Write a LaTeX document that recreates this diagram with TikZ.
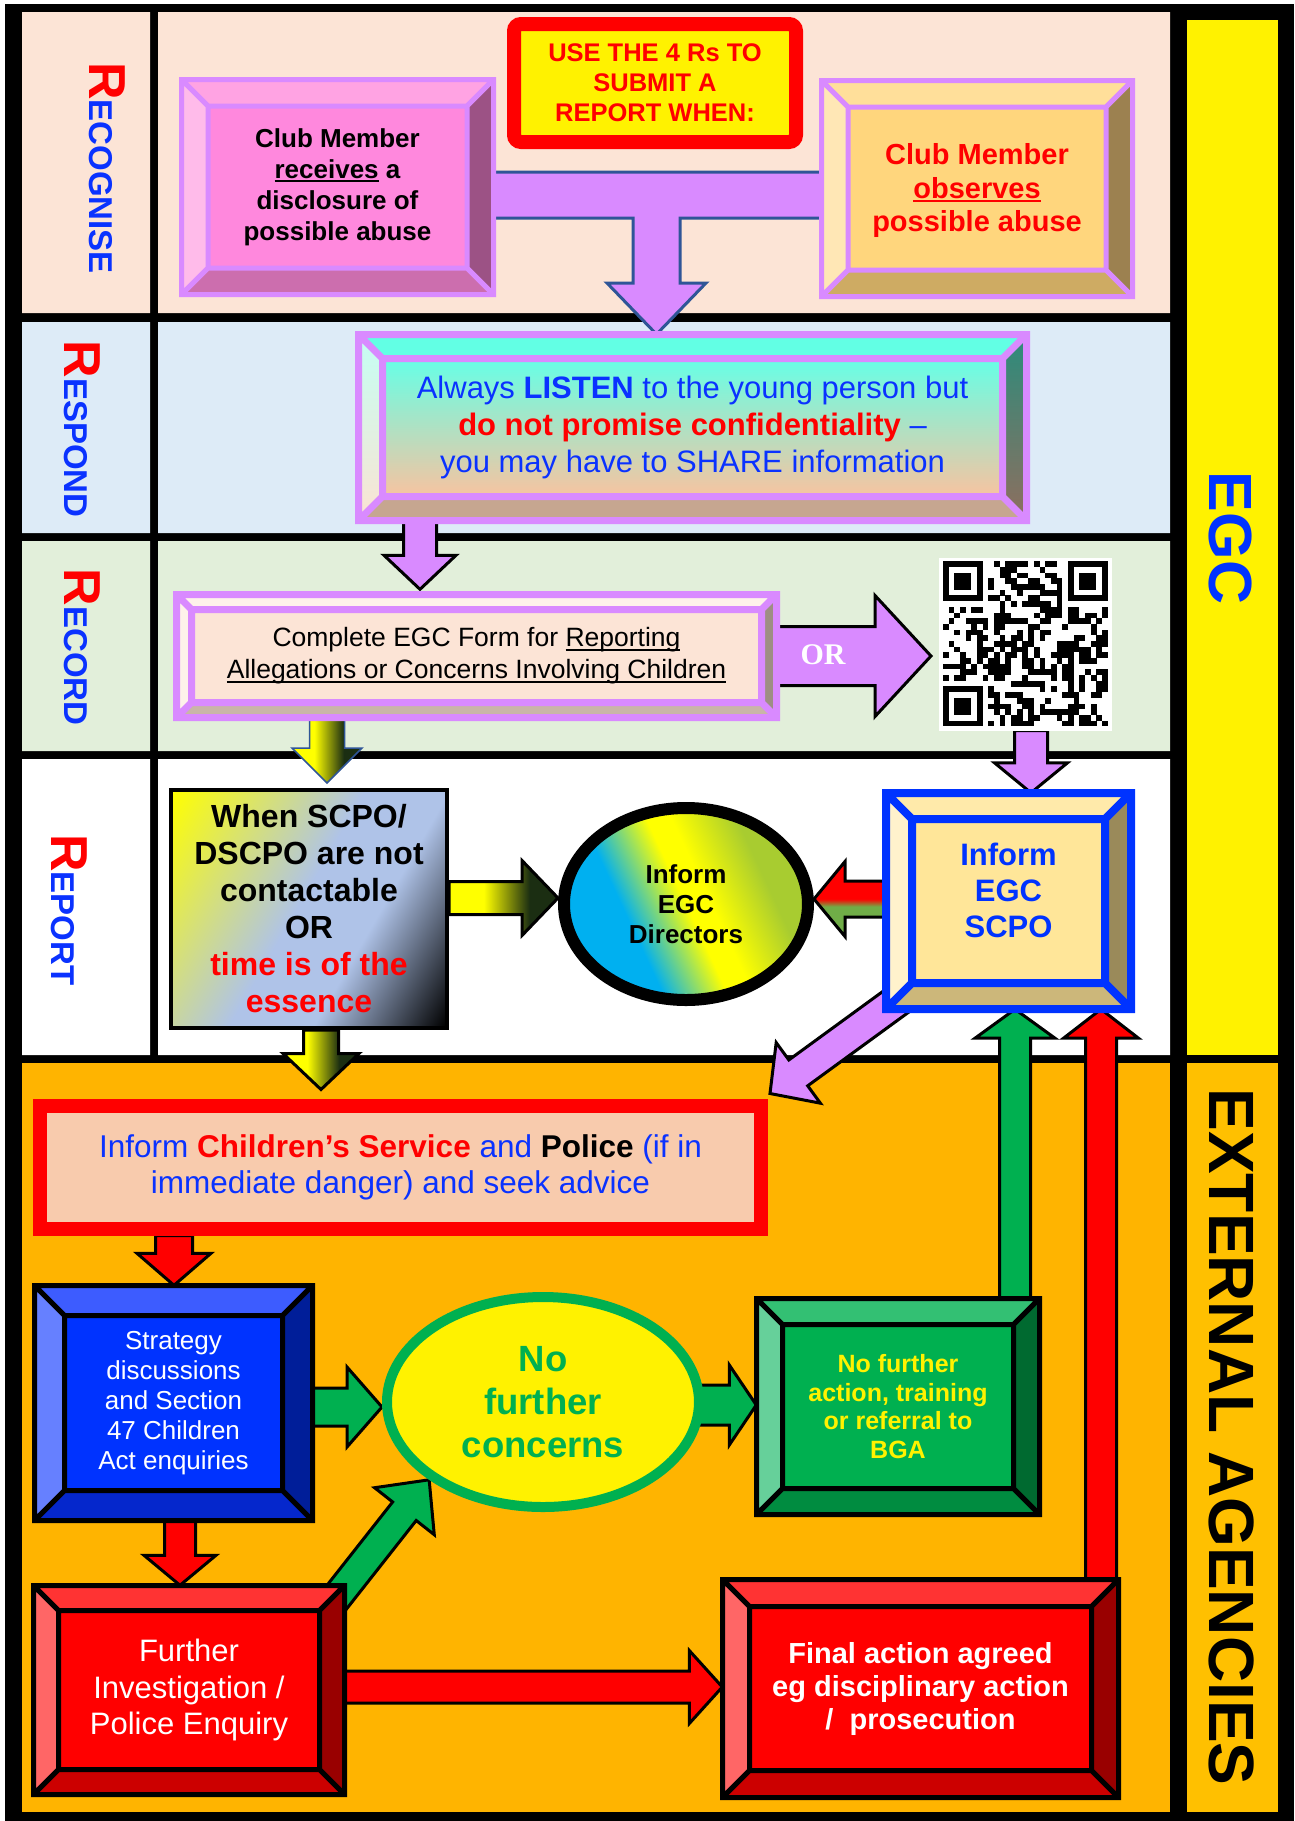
\documentclass[tikz,border=0pt]{standalone}
\usepackage{fontspec}
\setmainfont{Liberation Sans}
\newfontfamily\orfont{Liberation Serif}
\usetikzlibrary{calc,shapes.geometric}
\pgfdeclarelayer{bg}
\pgfdeclarelayer{arr}
\pgfsetlayers{bg,arr,main}

\definecolor{lav}{HTML}{D98AFF}
\definecolor{navy}{HTML}{2F5597}
\definecolor{tblue}{HTML}{0A32FF}
\definecolor{pureblue}{HTML}{0033FF}
\definecolor{recbg}{HTML}{FCE4D6}
\definecolor{resbg}{HTML}{DDEBF7}
\definecolor{rcdbg}{HTML}{E2EFDA}
\definecolor{extbg}{HTML}{FFB400}
\definecolor{extbgb}{HTML}{FFC000}
\definecolor{grn}{HTML}{00B050}
\definecolor{dkgrn}{HTML}{1B2E12}
\definecolor{lblue}{HTML}{AFC3E8}
\definecolor{cyanb}{HTML}{00B0F0}
\definecolor{ygreen}{HTML}{A8CC30}
\definecolor{lgrn}{HTML}{70AD47}
\definecolor{infbg}{HTML}{F8CBAD}
% bevel palettes
\definecolor{cpkF}{HTML}{FF88DD}\definecolor{cpkT}{HTML}{FFA3E3}\definecolor{cpkL}{HTML}{FFBBEA}\definecolor{cpkR}{HTML}{9C5285}\definecolor{cpkB}{HTML}{CC6EAE}
\definecolor{corF}{HTML}{FFD67D}\definecolor{corT}{HTML}{FFDF9A}\definecolor{corL}{HTML}{FFE7B5}\definecolor{corR}{HTML}{9C8150}\definecolor{corB}{HTML}{CEAB63}
\definecolor{crsT}{HTML}{62FFE4}\definecolor{crsFt}{HTML}{66FFE6}\definecolor{crsFb}{HTML}{F8C3A0}\definecolor{crsLt}{HTML}{C4FFF4}\definecolor{crsLb}{HTML}{FCE3D2}\definecolor{crsRt}{HTML}{2B8C7C}\definecolor{crsRb}{HTML}{8F6E5E}\definecolor{crsB}{HTML}{C6A690}
\definecolor{crcF}{HTML}{FCE4D6}\definecolor{crcT}{HTML}{FEF2EA}\definecolor{crcR}{HTML}{9E8E84}\definecolor{crcB}{HTML}{C9B5A8}
\definecolor{cscF}{HTML}{FFE699}\definecolor{cscT}{HTML}{FFEAAA}\definecolor{cscL}{HTML}{FFF2CC}\definecolor{cscR}{HTML}{9A8A5A}\definecolor{cscB}{HTML}{CCB77A}
\definecolor{cblF}{HTML}{0033FF}\definecolor{cblT}{HTML}{3D5CFF}\definecolor{cblL}{HTML}{6680FF}\definecolor{cblR}{HTML}{001E99}\definecolor{cblB}{HTML}{0527CC}
\definecolor{cgnF}{HTML}{00B050}\definecolor{cgnT}{HTML}{33C073}\definecolor{cgnL}{HTML}{66D09A}\definecolor{cgnR}{HTML}{006A30}\definecolor{cgnB}{HTML}{008C40}
\definecolor{crdF}{HTML}{FF0000}\definecolor{crdT}{HTML}{FF3333}\definecolor{crdL}{HTML}{FF6666}\definecolor{crdR}{HTML}{990000}\definecolor{crdB}{HTML}{CC0000}

\pgfdeclarehorizontalshading{whensh}{100bp}{color(0bp)=(yellow); color(16bp)=(yellow); color(48bp)=(lblue); color(62bp)=(lblue); color(84bp)=(black); color(100bp)=(black)}
\pgfdeclarehorizontalshading{dirsh}{100bp}{color(0bp)=(cyanb); color(37bp)=(cyanb); color(50bp)=(yellow); color(55bp)=(yellow); color(68bp)=(ygreen); color(100bp)=(ygreen)}
\pgfdeclarehorizontalshading{ygd}{100bp}{color(0bp)=(yellow); color(41bp)=(yellow); color(62bp)=(dkgrn); color(100bp)=(dkgrn)}
\pgfdeclareverticalshading{rgsh}{100bp}{color(0bp)=(lgrn); color(45bp)=(lgrn); color(50bp)=(red); color(100bp)=(red)}

\newcommand\fsz[2]{\fontsize{#1}{#2}\selectfont}
\newcommand\uline[1]{\leavevmode\setbox0\hbox{#1}\rlap{\rule[-0.15em]{\wd0}{0.08em}}\box0\relax}

% #1 name #2 x1 #3 y1 #4 x2 #5 y2 #6 bevel #7 palette #8 text style #9 text
\newcommand\bevelbox[9]{%
  \fill[#7T] (#2,#3) -- (#4,#3) -- ({#4-#6},{#3+#6}) -- ({#2+#6},{#3+#6}) -- cycle;
  \fill[#7B] (#2,#5) -- (#4,#5) -- ({#4-#6},{#5-#6}) -- ({#2+#6},{#5-#6}) -- cycle;
  \fill[#7L] (#2,#3) -- ({#2+#6},{#3+#6}) -- ({#2+#6},{#5-#6}) -- (#2,#5) -- cycle;
  \fill[#7R] (#4,#3) -- ({#4-#6},{#3+#6}) -- ({#4-#6},{#5-#6}) -- (#4,#5) -- cycle;
  \fill[#7F] ({#2+#6},{#3+#6}) rectangle ({#4-#6},{#5-#6});
  \draw[#7O] (#2,#3) rectangle (#4,#5) ({#2+#6},{#3+#6}) rectangle ({#4-#6},{#5-#6})
    (#2,#3) -- ({#2+#6},{#3+#6}) (#4,#3) -- ({#4-#6},{#3+#6})
    (#2,#5) -- ({#2+#6},{#5-#6}) (#4,#5) -- ({#4-#6},{#5-#6});
  \node[inner sep=0pt, minimum width={(#4-#2)*1pt}, minimum height={(#5-#3)*1pt}] (#1) at ({(#2+#4)/2},{(#3+#5)/2}) {};
  \node[align=center, inner sep=0pt, #8] (#1-t) at (#1.center) {#9};
}

% block arrow: #1 style #2 start #3 end #4 half shaft #5 half head #6 head length
\newcommand\barrow[6][]{%
  \path #2 coordinate (bas) #3 coordinate (bae);
  \path ($(bae)!#6pt!(bas)$) coordinate (bah);
  \path[#1] ($(bas)!#4pt!90:(bae)$) -- ($(bah)!#4pt!90:(bae)$) -- ($(bah)!#5pt!90:(bae)$) -- (bae)
    -- ($(bah)!#5pt!-90:(bae)$) -- ($(bah)!#4pt!-90:(bae)$) -- ($(bas)!#4pt!-90:(bae)$) -- cycle;
}

\tikzset{
  pkF/.style={fill=cpkF}, pkT/.style={fill=cpkT}, pkL/.style={fill=cpkL}, pkR/.style={fill=cpkR}, pkB/.style={fill=cpkB}, pkO/.style={draw=lav, line width=5},
  orF/.style={fill=corF}, orT/.style={fill=corT}, orL/.style={fill=corL}, orR/.style={fill=corR}, orB/.style={fill=corB}, orO/.style={draw=lav, line width=5},
  rsF/.style={top color=crsFt, bottom color=crsFb}, rsT/.style={fill=crsT}, rsL/.style={top color=crsLt, bottom color=crsLb}, rsR/.style={top color=crsRt, bottom color=crsRb}, rsB/.style={fill=crsB}, rsO/.style={draw=lav, line width=7},
  rcF/.style={fill=crcF}, rcT/.style={fill=crcT}, rcL/.style={fill=crcT}, rcR/.style={fill=crcR}, rcB/.style={fill=crcB}, rcO/.style={draw=lav, line width=7},
  scF/.style={fill=cscF}, scT/.style={fill=cscT}, scL/.style={fill=cscL}, scR/.style={fill=cscR}, scB/.style={fill=cscB}, scO/.style={draw=pureblue, line width=8},
  blF/.style={fill=cblF}, blT/.style={fill=cblT}, blL/.style={fill=cblL}, blR/.style={fill=cblR}, blB/.style={fill=cblB}, blO/.style={draw=black, line width=5},
  gnF/.style={fill=cgnF}, gnT/.style={fill=cgnT}, gnL/.style={fill=cgnL}, gnR/.style={fill=cgnR}, gnB/.style={fill=cgnB}, gnO/.style={draw=black, line width=5},
  rdF/.style={fill=crdF}, rdT/.style={fill=crdT}, rdL/.style={fill=crdL}, rdR/.style={fill=crdR}, rdB/.style={fill=crdB}, rdO/.style={draw=black, line width=5},
  lbl/.style={rotate=-90, anchor=base, inner sep=0pt, text=tblue, font=\bfseries},
  parr/.style={fill=lav, draw=black, line width=3, line join=miter},
  tarr/.style={fill=lav, draw=navy, line width=3, line join=miter},
  yarrn/.style={shade, shading=ygd, shading angle=0, draw=navy, line width=1.5, line join=miter},
  yarr/.style={shade, shading=ygd, shading angle=0, draw=black, line width=3, line join=miter},
  rgarr/.style={shade, shading=rgsh, draw=black, line width=3, line join=miter},
  rarr/.style={fill=red, draw=black, line width=3, line join=miter},
  garr/.style={fill=grn, draw=black, line width=3, line join=miter},
}

\begin{document}
\begin{tikzpicture}[x=1pt,y=-1pt]
\useasboundingbox (0,0) rectangle (1294,1821);

\begin{pgfonlayer}{bg}
\fill[white] (0,0) rectangle (1294,1821);
\fill[black] (5,4) rectangle (1294,1821);
\fill[recbg] (22,12) rectangle (150,313) (158,12) rectangle (1170,313);
\fill[resbg] (22,322) rectangle (150,533) (158,322) rectangle (1170,533);
\fill[rcdbg] (22,541) rectangle (150,751) (158,541) rectangle (1170,751);
\fill[white] (22,759) rectangle (150,1055) (158,759) rectangle (1170,1055);
\fill[extbg] (22,1063) rectangle (1170,1812);
\fill[yellow] (1187,20) rectangle (1278,1055);
\fill[extbgb] (1187,1063) rectangle (1278,1812);
\end{pgfonlayer}

% row labels
\node[lbl] (lrecog) at (89,168) {\textcolor{red}{\fsz{52}{52}R}\fsz{33}{33}ECOGNISE};
\node[lbl] (lresp) at (64,429) {\textcolor{red}{\fsz{52}{52}R}\fsz{33}{33}ESPOND};
\node[lbl] (lrecord) at (64,647) {\textcolor{red}{\fsz{52}{52}R}\fsz{33}{33}ECORD};
\node[lbl] (lrep) at (51,910) {\textcolor{red}{\fsz{52}{52}R}\fsz{33}{33}EPORT};
\node[lbl, text=pureblue, font=\bfseries\fsz{61}{61}] (egc) at (1209,538) {EGC};
\node[lbl, text=black, font=\bfseries\fsz{64}{64}] (ext) at (1209,1437) {EXTERNAL AGENCIES};

% recognise
\node[draw=red, line width=14, fill=yellow, rounded corners=7, minimum width=282, minimum height=118, inner sep=0pt, text=red, align=center, font=\bfseries\fsz{25.5}{30}] (use4r) at (655,83) {USE THE 4 Rs TO\\SUBMIT A\\REPORT WHEN:};
\bevelbox{recv}{181.5}{79.5}{493.5}{294.5}{26.5}{pk}{font=\bfseries\fsz{26}{31}}{Club Member\\\uline{receives} a\\disclosure of\\possible abuse}
\bevelbox{obs}{821.5}{80.5}{1132.5}{296.5}{26.5}{or}{text=red, font=\bfseries\fsz{29}{33.5}, yshift=-2pt}{Club Member\\\uline{observes}\\possible abuse}

% respond
\bevelbox{listen}{358.5}{334.5}{1026.5}{520.5}{24}{rs}{text=tblue, font=\fsz{31}{37}}{Always \textbf{LISTEN} to the young person but\\\textcolor{red}{\textbf{do not promise confidentiality}} --\\you may have to SHARE information}

% record
\bevelbox{form}{176.5}{594.5}{776.5}{717.5}{15}{rc}{font=\fsz{26.5}{32}}{Complete EGC Form for \uline{Reporting}\\\uline{Allegations or Concerns Involving Children}}
\node[fill=white, inner sep=0pt, minimum size=173] (qr) at (1025.5,644) {};
\begin{scope}[shift={(qr.north west)}, shift={(4,4)}]
  \pgfmathsetseed{4242}
  \foreach \i in {0,...,28}{
    \foreach \j in {0,...,28}{
      \pgfmathtruncatemacro\qq{((\i<8)&&(\j<8))||((\i>20)&&(\j<8))||((\i<8)&&(\j>20))}
      \ifnum\qq=0
        \pgfmathrandominteger{\qv}{0}{1}
        \ifnum\qv=1 \fill[black] ({\i*5.69},{\j*5.69}) rectangle ++(5.75,5.75);\fi
      \fi
    }
  }
  \foreach \fx/\fy in {0/0,22/0,0/22}{
    \fill[black] ({\fx*5.69},{\fy*5.69}) rectangle ++(39.83,39.83);
    \fill[white] ({(\fx+1)*5.69},{(\fy+1)*5.69}) rectangle ++(28.45,28.45);
    \fill[black] ({(\fx+2)*5.69},{(\fy+2)*5.69}) rectangle ++(17.07,17.07);
  }
\end{scope}
\node[text=white, font=\orfont\bfseries\fsz{30}{30}] (ortext) at (823,655) {OR};

% report
\node[draw=black, line width=4, shade, shading=whensh, shading angle=-30, minimum width=276, minimum height=238, inner sep=0pt, align=center, font=\bfseries\fsz{32}{37}] (when) at (309,909) {When SCPO/\\DSCPO are not\\contactable\\OR\\\textcolor{red}{time is of the}\\\textcolor{red}{essence}};
\node[ellipse, draw=black, line width=12, shade, shading=dirsh, shading angle=25, minimum width=244, minimum height=192, inner sep=0pt, align=center, font=\bfseries\fsz{26}{30}] (dir) at (686,904) {Inform\\EGC\\Directors};
\bevelbox{scpo}{886}{793}{1131}{1009}{26}{sc}{text=pureblue, font=\bfseries\fsz{31}{36}, yshift=11pt}{Inform\\EGC\\SCPO}

% external agencies
\node[draw=red, line width=14, fill=infbg, minimum width=721, minimum height=123, inner sep=0pt, text=tblue, align=center, font=\fsz{31.5}{36}] (inform) at (400.5,1167) {Inform \textcolor{red}{\bfseries Children’s Service} and \textcolor{black}{\bfseries Police} (if in\\immediate danger) and seek advice};
\bevelbox{strat}{34.5}{1285.5}{312.5}{1520.5}{30}{bl}{text=white, font=\fsz{26}{30}}{Strategy\\discussions\\and Section\\47 Children\\Act enquiries}
\node[ellipse, draw=grn, line width=10, fill=yellow, minimum width=312, minimum height=210, inner sep=0pt, align=center, text=grn, font=\bfseries\fsz{36.5}{43}] (nfc) at (543,1402) {No\\further\\concerns};
\bevelbox{nfa}{756.5}{1298.5}{1039.5}{1514.5}{26}{gn}{text=yellow, font=\bfseries\fsz{25}{28.5}}{No further\\action, training\\or referral to\\BGA}
\bevelbox{furth}{33.5}{1585.5}{344.5}{1794.5}{25}{rd}{text=white, font=\fsz{31}{36.5}}{Further\\Investigation /\\Police Enquiry}
\bevelbox{final}{722.5}{1579.5}{1118.5}{1797.5}{27}{rd}{text=white, font=\bfseries\fsz{29}{33}}{Final action agreed\\eg disciplinary action\\/\ \ prosecution}

% connectors
\begin{pgfonlayer}{arr}
\path[tarr] (recv.east |- 0,172) -- (obs.west |- 0,172) -- (obs.west |- 0,218) -- (680,218) -- (680,283) -- (706,283)
  -- (listen.north -| 656.5,0) -- (607,283) -- (633,283) -- (633,218) -- (recv.east |- 0,218) -- cycle;
\barrow[parr]{(listen.south -| 420,0)}{($(form.north -| 420,0)+(0,-5)$)}{16.5}{36}{34}
\barrow[parr]{(form.east)}{(form.east -| 931,0)}{29.5}{60.5}{56}
\barrow[parr]{(qr.south -| 1031,0)}{(scpo.north -| 1031,0)}{16.5}{36.5}{30}
\barrow[yarrn]{(form.south -| 327,0)}{($(when.north -| 327,0)+(0,-5)$)}{17.5}{35}{35}
\barrow[yarr]{(when.south -| 321,0)}{($(inform.north -| 321,0)+(0,-9)$)}{17.5}{38}{36}
\barrow[yarr]{(when.east |- 0,898)}{(dir.west |- 0,898)}{16.5}{37.5}{36}
\barrow[rgarr]{(scpo.west |- 0,899)}{(dir.east |- 0,899)}{18}{37.5}{31}
\barrow[parr]{($(scpo.south west)+(19,-14)$)}{($(inform.north east)+(2,-5)$)}{16}{37.5}{35}
\barrow[rarr]{(inform.south -| 174,0)}{(strat.north -| 174,0)}{18.5}{37}{32}
\barrow[garr]{(strat.east |- 0,1407)}{(nfc.west |- 0,1407)}{19}{40}{35}
\barrow[garr]{($(nfc.east |- 0,1405)+(-15,0)$)}{(nfa.west |- 0,1405)}{20}{40}{27}
\barrow[garr]{(nfa.north -| 1015,0)}{(scpo.south -| 1015,0)}{15.5}{40}{29}
\barrow[rarr]{(final.north -| 1101,0)}{(scpo.south -| 1101,0)}{15.5}{37.5}{29}
\barrow[rarr]{(strat.south -| 180,0)}{(furth.north -| 180,0)}{15.5}{36}{30}
\barrow[garr]{($(furth.north east)+(-12,17)$)}{(nfc.south west)}{15}{38}{40}
\barrow[rarr]{(furth.east |- 0,1687)}{(final.west |- 0,1687)}{16}{36.5}{33}
\end{pgfonlayer}
\end{tikzpicture}
\end{document}
